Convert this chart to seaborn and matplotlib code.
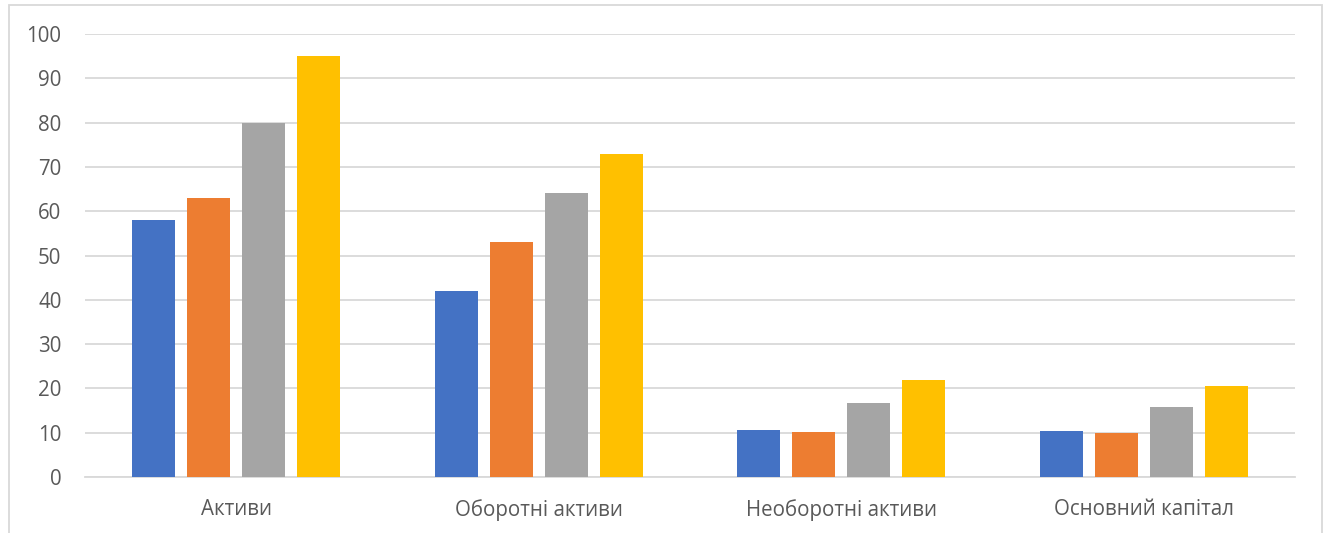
import matplotlib
matplotlib.use("Agg")
import matplotlib.pyplot as plt
import seaborn as sns
import pandas as pd
from matplotlib.patches import Rectangle

categories = ["Активи", "Оборотні активи", "Необоротні активи", "Основний капітал"]
series_names = ["Ряд 1", "Ряд 2", "Ряд 3", "Ряд 4"]
series_1 = [58.0, 42.0, 10.5, 10.3]
series_2 = [63.0, 53.0, 10.1, 9.9]
series_3 = [80.0, 64.0, 16.7, 15.7]
series_4 = [95.0, 73.0, 22.0, 20.6]
y_ticks = [0, 10, 20, 30, 40, 50, 60, 70, 80, 90, 100]

palette = ["#4472C4", "#ED7D31", "#A5A5A5", "#FFC000"]

rows = []
for name, vals in zip(series_names, [series_1, series_2, series_3, series_4]):
    for cat, v in zip(categories, vals):
        rows.append({"category": cat, "series": name, "value": v})
df = pd.DataFrame(rows)

sns.set_theme(style="white")
plt.rcParams["font.family"] = ["Open Sans", "DejaVu Sans"]

fig = plt.figure(figsize=(13.27, 5.33), dpi=100)
ax = fig.add_axes([85 / 1327, 56 / 533, 1210 / 1327, 443 / 533])

sns.barplot(data=df, x="category", y="value", hue="series", order=categories,
            hue_order=series_names, palette=palette, width=0.727, gap=0.22,
            saturation=1, legend=False, linewidth=0, ax=ax, zorder=3)

ax.set_xlim(-0.5, len(categories) - 0.5)
ax.set_ylim(0, 100)
ax.set_yticks(y_ticks)
ax.set_xlabel("")
ax.set_ylabel("")
ax.yaxis.grid(True, color="#D9D9D9", linewidth=1.3, zorder=0)
ax.xaxis.grid(False)
for side in ["left", "right", "top"]:
    ax.spines[side].set_visible(False)
ax.spines["bottom"].set_color("#D9D9D9")
ax.spines["bottom"].set_linewidth(1.3)
ax.tick_params(axis="y", length=0, pad=17, labelsize=14.8, labelcolor="#595959")
ax.tick_params(axis="x", length=0, pad=16, labelsize=14.8, labelcolor="#595959")

# chart-area frame
fig.patches.append(Rectangle((9 / 1327, -0.05), 1313 / 1327, (528 / 533) + 0.05,
                             transform=fig.transFigure, fill=False,
                             edgecolor="#D9D9D9", linewidth=1.3))

fig.savefig("out.png", dpi=100)
